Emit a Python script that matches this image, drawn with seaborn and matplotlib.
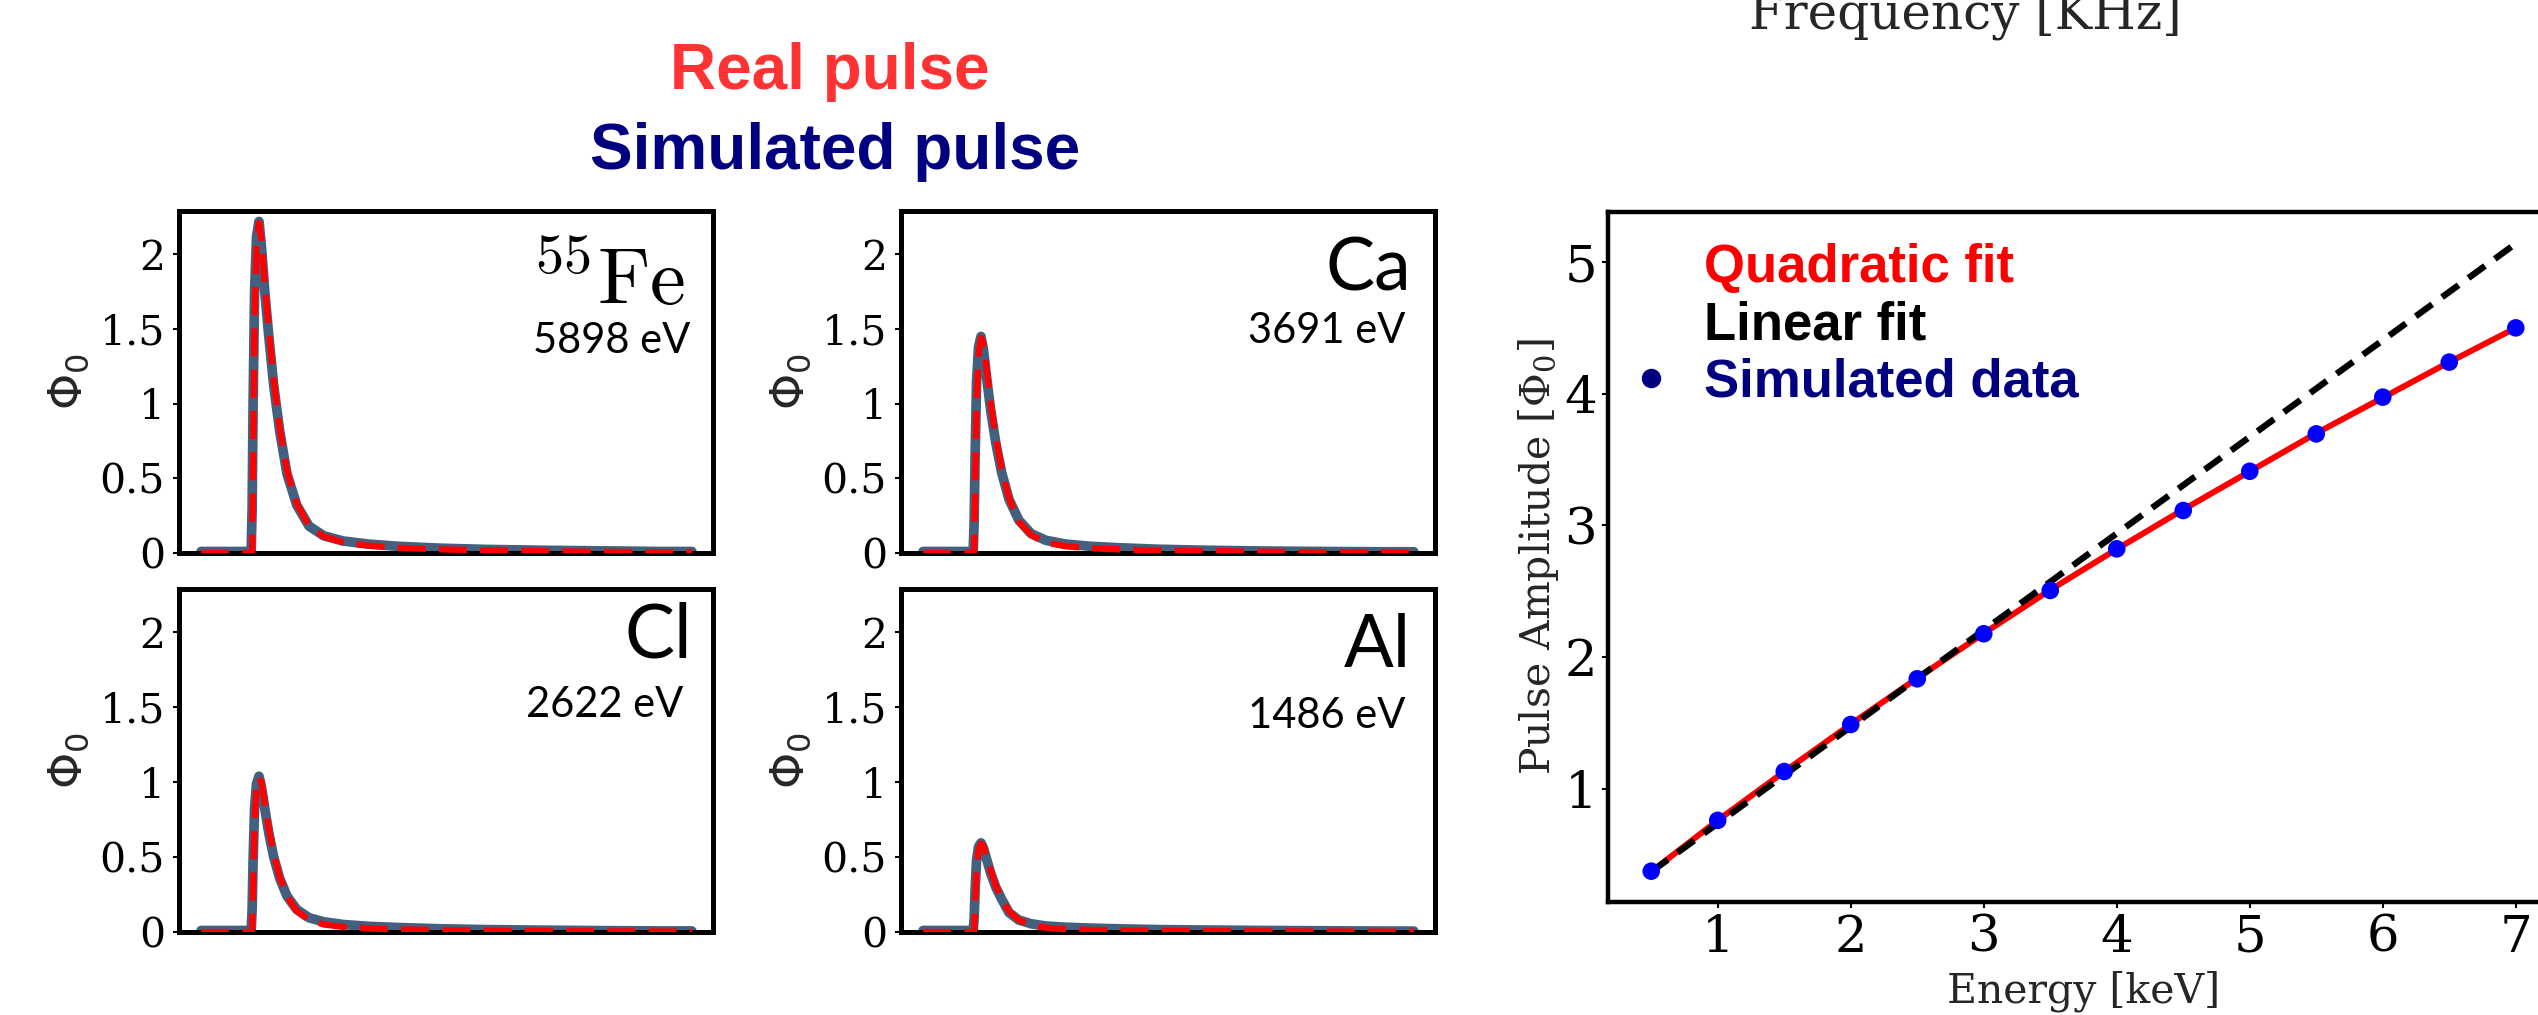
import matplotlib
matplotlib.use("Agg")
import matplotlib.pyplot as plt
from matplotlib.lines import Line2D
from matplotlib.font_manager import FontProperties
import seaborn as sns

# ---------------------------------------------------------------- data
# shared time samples of the pulse traces (arbitrary units)
pulse_time = [0, 60, 102, 104, 106, 109, 113, 118, 123, 130, 138, 148, 160,
              175, 195, 220, 250, 290, 340, 400, 480, 580, 700, 820, 940, 1000]

# simulated and measured pulses [Phi_0]
fe_sim = [0.01, 0.01, 0.01, 0.30, 1.00, 1.75, 2.12, 2.22, 2.05, 1.74, 1.45, 1.12, 0.82,
          0.53, 0.32, 0.18, 0.115, 0.08, 0.06, 0.045, 0.033, 0.024, 0.018, 0.014, 0.01, 0.01]
fe_real = [0.0, 0.0, 0.0, 0.0, 0.60, 1.55, 2.05, 2.21, 2.10, 1.80, 1.50, 1.16, 0.84,
           0.55, 0.33, 0.18, 0.11, 0.07, 0.05, 0.035, 0.025, 0.018, 0.012, 0.008, 0.005, 0.005]

ca_sim = [0.01, 0.01, 0.01, 0.20, 0.65, 1.15, 1.38, 1.45, 1.36, 1.16, 0.95, 0.74, 0.54,
          0.36, 0.22, 0.13, 0.085, 0.06, 0.045, 0.035, 0.025, 0.018, 0.013, 0.01, 0.008, 0.008]
ca_real = [0.0, 0.0, 0.0, 0.0, 0.40, 1.00, 1.33, 1.44, 1.40, 1.22, 1.00, 0.78, 0.56,
           0.37, 0.21, 0.12, 0.07, 0.045, 0.032, 0.024, 0.017, 0.012, 0.008, 0.005, 0.004, 0.004]

cl_sim = [0.01, 0.01, 0.01, 0.15, 0.48, 0.83, 0.99, 1.04, 0.97, 0.82, 0.66, 0.50, 0.36,
          0.24, 0.15, 0.095, 0.068, 0.05, 0.038, 0.03, 0.022, 0.016, 0.012, 0.009, 0.007, 0.007]
cl_real = [0.0, 0.0, 0.0, 0.0, 0.30, 0.72, 0.96, 1.03, 1.00, 0.86, 0.69, 0.52, 0.37,
           0.24, 0.14, 0.08, 0.05, 0.033, 0.024, 0.018, 0.013, 0.009, 0.006, 0.004, 0.003, 0.003]

al_sim = [0.01, 0.01, 0.01, 0.09, 0.28, 0.48, 0.57, 0.595, 0.56, 0.48, 0.39, 0.30, 0.22,
          0.13, 0.08, 0.055, 0.04, 0.032, 0.026, 0.021, 0.016, 0.013, 0.01, 0.008, 0.006, 0.006]
al_real = [0.0, 0.0, 0.0, 0.0, 0.18, 0.42, 0.55, 0.59, 0.575, 0.50, 0.41, 0.31, 0.22,
           0.14, 0.08, 0.045, 0.028, 0.019, 0.014, 0.011, 0.008, 0.006, 0.004, 0.003, 0.002, 0.002]

line_names = [r"$^{55}\mathrm{Fe}$", "Ca", "Cl", "Al"]
line_energies = ["5898 eV", "3691 eV", "2622 eV", "1486 eV"]
pulse_yticks = [0, 0.5, 1, 1.5, 2]
pulse_yticklabels = ["0", "0.5", "1", "1.5", "2"]

# amplitude vs energy
energy_kev = [0.5, 1.0, 1.5, 2.0, 2.5, 3.0, 3.5, 4.0, 4.5, 5.0, 5.5, 6.0, 6.5, 7.0]
amp_simulated = [0.374, 0.76, 1.131, 1.488, 1.835, 2.177, 2.506, 2.822, 3.113,
                 3.411, 3.695, 3.974, 4.24, 4.50]
amp_quadratic = [0.37, 0.76, 1.13, 1.49, 1.84, 2.18, 2.51, 2.82, 3.12, 3.41,
                 3.70, 3.97, 4.24, 4.50]
linear_energy = [0.5, 7.0]
amp_linear = [0.37, 5.14]
legend_labels = ["Quadratic fit", "Linear fit", "Simulated data"]

# ---------------------------------------------------------------- style
sns.set_style("ticks")
plt.rcParams.update({
    "font.family": ["DejaVu Serif"],
    "axes.linewidth": 3.6,
    "axes.edgecolor": "black",
    "xtick.color": "black",
    "ytick.color": "black",
    "xtick.direction": "out",
    "ytick.direction": "out",
})

W, H = 2538, 1015
fig = plt.figure(figsize=(W / 100, H / 100), dpi=100)


def px_axes(x0, y0, x1, y1):
    return fig.add_axes([x0 / W, 1 - y1 / H, (x1 - x0) / W, (y1 - y0) / H])


sim_color = "#44607f"
real_color = "#ff0000"
bold_sans = ["Liberation Sans", "DejaVu Sans"]
thin_sans = ["Lato", "DejaVu Sans"]

pulse_axes = [
    px_axes(179, 211, 713, 553),
    px_axes(901, 211, 1435, 553),
    px_axes(179, 589, 713, 932),
    px_axes(901, 589, 1435, 932),
]
pulses = [(fe_sim, fe_real), (ca_sim, ca_real), (cl_sim, cl_real), (al_sim, al_real)]
# (name x, name y, name size, energy x, energy y)
label_pos = [
    (0.948, 0.725, 58, 0.957, 0.585),
    (0.955, 0.769, 53, 0.945, 0.614),
    (0.961, 0.799, 54, 0.944, 0.627),
    (0.955, 0.773, 53, 0.945, 0.595),
]

for ax, (sim, real), name, en, pos in zip(pulse_axes, pulses, line_names,
                                           line_energies, label_pos):
    sns.lineplot(x=pulse_time, y=sim, ax=ax, color=sim_color, lw=7,
                 estimator=None, sort=False, zorder=2)
    sns.lineplot(x=pulse_time, y=real, ax=ax, color=real_color, lw=4.5,
                 linestyle=(0, (4.5, 2.1)), estimator=None, sort=False, zorder=3)
    ax.set_xlim(-45, 1043)
    ax.set_ylim(0, 2.29)
    ax.set_xticks([])
    ax.set_yticks(pulse_yticks)
    ax.set_yticklabels(pulse_yticklabels)
    ax.tick_params(axis="y", length=4, width=1.5, pad=6, labelsize=29.5)
    for sp in ax.spines.values():
        sp.set_linewidth(3.6)
    ax.set_ylabel(r"$\Phi_0$", fontsize=33, math_fontfamily="dejavusans", labelpad=6)
    nx, ny, nsize, ex, ey = pos
    if name.startswith("$"):
        ax.text(nx, ny, name, transform=ax.transAxes, ha="right", va="baseline",
                fontsize=nsize, color="black", math_fontfamily="cm")
    else:
        ax.text(nx, ny, name, transform=ax.transAxes, ha="right", va="baseline",
                fontsize=nsize, color="black", family=thin_sans, fontweight="normal")
    ax.text(ex, ey, en, transform=ax.transAxes, ha="right", va="baseline",
            fontsize=30, color="black", family=thin_sans)

fig.text(830 / W, 1 - 89 / H, "Real pulse", ha="center", va="baseline",
         color="#ff3333", fontsize=46, family=bold_sans, fontweight="bold")
fig.text(835 / W, 1 - 169 / H, "Simulated pulse", ha="center", va="baseline",
         color="#000080", fontsize=46, family=bold_sans, fontweight="bold")
fig.text(1965 / W, 1 - 28 / H, "Frequency [KHz]", ha="center", va="baseline",
         fontsize=36, family=["DejaVu Serif"])

# ---------------------------------------------------------------- amplitude panel
ax = px_axes(1608, 212, 2559, 902)
sns.lineplot(x=energy_kev, y=amp_quadratic, ax=ax, color="red", lw=4.3,
             estimator=None, sort=False, zorder=2)
sns.lineplot(x=linear_energy, y=amp_linear, ax=ax, color="black", lw=4.6,
             linestyle=(0, (3.2, 1.9)), estimator=None, sort=False, zorder=3)
sns.scatterplot(x=energy_kev, y=amp_simulated, ax=ax, color="#0000ff", s=160,
                edgecolor="none", linewidth=0, zorder=5)
ax.set_xlim(0.175, 7.325)
ax.set_ylim(0.14, 5.38)
ax.set_xticks([1, 2, 3, 4, 5, 6, 7])
ax.set_yticks([1, 2, 3, 4, 5])
ax.tick_params(length=4, width=1.5, pad=4, labelsize=37)
for sp in ax.spines.values():
    sp.set_linewidth(3.2)
ax.set_xlabel("Energy [keV]", fontsize=29.5, labelpad=6)
ax.set_ylabel(r"Pulse Amplitude [$\Phi_0$]", fontsize=29.5, labelpad=2,
              math_fontfamily="dejavuserif")

handles = [
    Line2D([], [], color="red", lw=0),
    Line2D([], [], color="black", lw=0),
    Line2D([], [], marker="o", color="#000080", ls="none", markersize=13),
]
leg = ax.legend(handles, legend_labels, loc="upper left", bbox_to_anchor=(0.045, 0.955),
                frameon=False, handlelength=0, handletextpad=1.0, labelspacing=0.14,
                borderpad=0, borderaxespad=0,
                prop=FontProperties(family=bold_sans, weight="bold", size=38))
for txt, col in zip(leg.get_texts(), ["red", "black", "#000080"]):
    txt.set_color(col)

fig.savefig("out.png", dpi=100)
